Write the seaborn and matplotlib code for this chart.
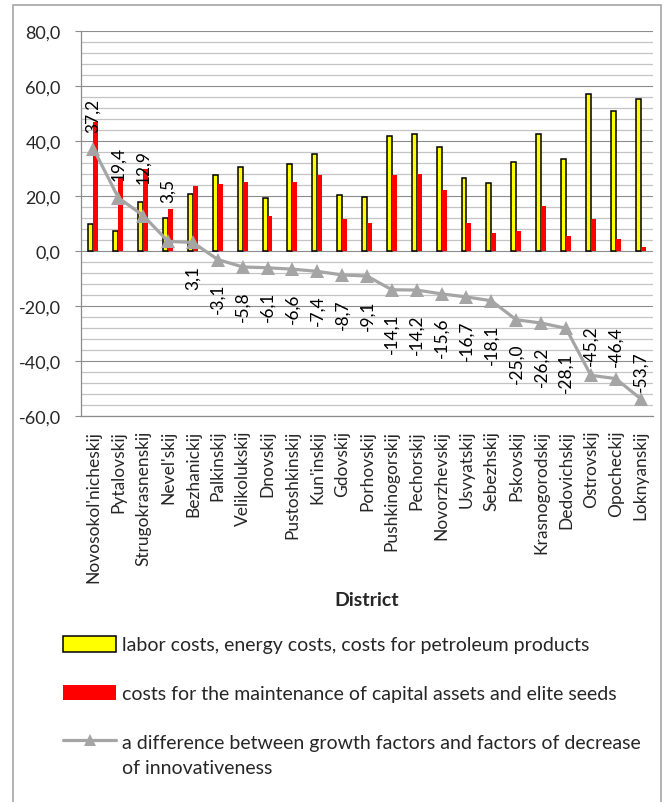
import numpy as np
import pandas as pd
import matplotlib
matplotlib.use("Agg")
import matplotlib.pyplot as plt
from matplotlib.patches import Patch, Rectangle
from matplotlib.lines import Line2D
from matplotlib.ticker import MultipleLocator, FuncFormatter
import seaborn as sns

districts = ["Novosokol'nicheskij", "Pytalovskij", "Strugokrasnenskij", "Nevel'skij",
             "Bezhanickij", "Palkinskij", "Velikolukskij", "Dnovskij", "Pustoshkinskij",
             "Kun'inskij", "Gdovskij", "Porhovskij", "Pushkinogorskij", "Pechorskij",
             "Novorzhevskij", "Usvyatskij", "Sebezhskij", "Pskovskij", "Krasnogorodskij",
             "Dedovichskij", "Ostrovskij", "Opocheckij", "Loknyanskij"]
labor_costs = [9.8, 7.1, 17.7, 12.0, 20.7, 27.5, 30.7, 19.2, 31.8, 35.2, 20.5, 19.5,
               41.9, 42.4, 37.9, 26.7, 24.8, 32.4, 42.7, 33.6, 57.1, 51.0, 55.3]
capital_costs = [47.0, 26.5, 30.0, 15.3, 23.6, 24.2, 25.1, 12.8, 25.2, 27.6, 11.6, 10.3,
                 27.7, 28.0, 22.2, 10.1, 6.5, 7.3, 16.4, 5.5, 11.6, 4.5, 1.5]
difference = [37.2, 19.4, 12.9, 3.5, 3.1, -3.1, -5.8, -6.1, -6.6, -7.4, -8.7, -9.1,
              -14.1, -14.2, -15.6, -16.7, -18.1, -25.0, -26.2, -28.1, -45.2, -46.4, -53.7]

series_names = ["labor costs, energy costs, costs for petroleum products",
                "costs for the maintenance of capital assets and elite seeds",
                "a difference between growth factors and factors of decrease\nof innovativeness"]

# label offsets in pixels (positive = above point, negative = below)
label_offsets = [17, 18, 33, 39] + [-23] * 16 + [10, 13, 8]

sns.set_style("white")
plt.rcParams["font.family"] = ["Lato", "DejaVu Sans"]

df = pd.DataFrame({
    "district": districts * 2,
    "series": [series_names[0]] * len(districts) + [series_names[1]] * len(districts),
    "value": labor_costs + capital_costs,
})

fig = plt.figure(figsize=(6.64, 8.03), dpi=100)
ax = fig.add_axes([81 / 664, 1 - 417 / 803, (653 - 81) / 664, (417 - 32) / 803])

sns.barplot(data=df, x="district", y="value", hue="series", hue_order=series_names[:2],
            palette=["#FFFF00", "#FF0000"], width=0.4, errorbar=None, ax=ax,
            legend=False, saturation=1)
for p in ax.containers[0]:
    p.set_edgecolor("black")
    p.set_linewidth(1.1)
for p in ax.containers[1]:
    p.set_linewidth(0)

xpos = np.arange(len(districts))
sns.lineplot(x=xpos, y=difference, color="#A5A5A5", linewidth=2.3, marker="^",
             markersize=10, markeredgewidth=0, ax=ax, zorder=5)

for x, v, off in zip(xpos, difference, label_offsets):
    ax.annotate(f"{v:.1f}".replace(".", ","), (x, v), xytext=(0, off * 0.72),
                textcoords="offset points", rotation=90, ha="center",
                va="bottom" if off > 0 else "top", fontsize=12.5, color="black")

ax.set_ylim(-60, 80)
ax.set_xlim(-0.5, len(districts) - 0.5)
ax.yaxis.set_major_locator(MultipleLocator(20))
ax.yaxis.set_minor_locator(MultipleLocator(4))
ax.yaxis.set_major_formatter(FuncFormatter(lambda v, _: f"{v:.1f}".replace(".", ",")))
ax.grid(which="major", axis="y", color="#8C8C8C", linewidth=0.8)
ax.grid(which="minor", axis="y", color="#C4C4C4", linewidth=0.9)
ax.set_axisbelow(True)
ax.tick_params(axis="y", which="major", length=4, width=0.8, color="#8C8C8C",
               labelsize=13, pad=10.5, left=True)
ax.tick_params(axis="y", which="minor", length=0)
ax.tick_params(axis="x", length=0, labelsize=12.5, pad=10, rotation=90)
for s in ["top", "right"]:
    ax.spines[s].set_visible(False)
for s in ["left", "bottom"]:
    ax.spines[s].set_color("#8C8C8C")
    ax.spines[s].set_linewidth(0.9)

ax.set_ylabel("")
ax.set_xlabel("District", fontweight="bold", fontsize=14)
ax.xaxis.set_label_coords(0.5, -0.455)

# legend: the wrapped third entry keeps its handle on the first line
legend_labels = [name.split("\n")[0] for name in series_names]
handles = [Patch(facecolor="#FFFF00", edgecolor="black", linewidth=1.1),
           Patch(facecolor="#FF0000", edgecolor="none"),
           Line2D([], [], color="#A5A5A5", linewidth=2.3, marker="^", markersize=9,
                  markeredgewidth=0)]
leg = fig.legend(handles, legend_labels, loc="upper left",
                 bbox_to_anchor=(63 / 664, 1 - 637 / 803),
                 frameon=False, fontsize=14, handlelength=2.75, handleheight=0.85,
                 handletextpad=0.3, labelspacing=1.6, borderpad=0, borderaxespad=0)
fig.canvas.draw()
bb = leg.get_texts()[2].get_window_extent()
fig.text(bb.x0 / fig.bbox.width, (bb.y0 - 25) / fig.bbox.height,
         series_names[2].split("\n")[1], fontsize=14, ha="left", va="bottom")

fig.patches.append(Rectangle((13 / 664, -0.01), (661 - 13) / 664, 1 - 6 / 803 + 0.01,
                             transform=fig.transFigure, fill=False, edgecolor="#A6A6A6",
                             linewidth=1.2, zorder=-1))

fig.savefig("out.png", dpi=100)
